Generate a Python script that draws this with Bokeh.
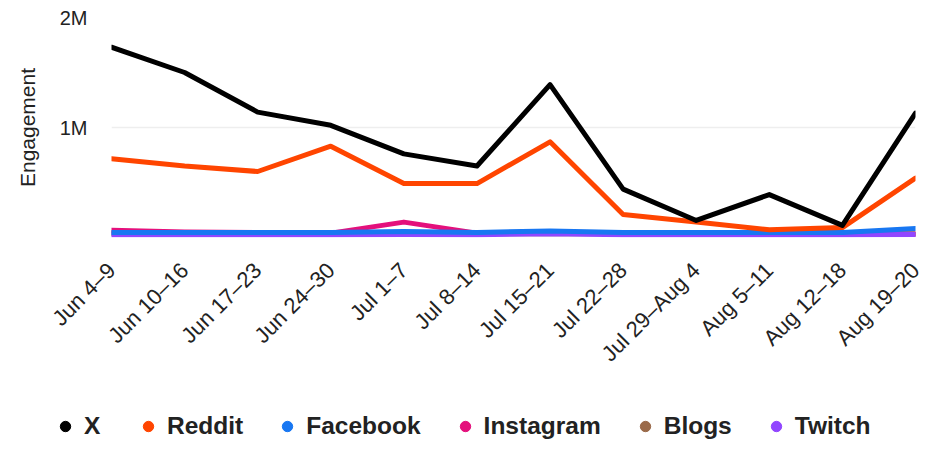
import math
from bokeh.plotting import figure
from bokeh.layouts import column
from bokeh.models import FixedTicker, Legend, LegendItem, Range1d
from bokeh.embed import file_html
from bokeh.resources import INLINE

weeks = ["Jun 4–9", "Jun 10–16", "Jun 17–23", "Jun 24–30", "Jul 1–7", "Jul 8–14",
         "Jul 15–21", "Jul 22–28", "Jul 29–Aug 4", "Aug 5–11", "Aug 12–18", "Aug 19–20"]

x_vals = [1730000, 1500000, 1140000, 1020000, 760000, 650000, 1390000, 440000, 155000, 390000, 110000, 1130000]
reddit = [715000, 650000, 600000, 830000, 490000, 490000, 870000, 210000, 140000, 70000, 90000, 540000]
facebook = [45000, 45000, 45000, 45000, 55000, 45000, 60000, 45000, 45000, 45000, 45000, 82000]
instagram = [65000, 50000, 45000, 40000, 140000, 40000, 40000, 40000, 40000, 40000, 38000, 30000]
blogs = [35000, 35000, 35000, 35000, 35000, 35000, 35000, 35000, 35000, 35000, 35000, 35000]
twitch = [25000, 25000, 25000, 25000, 28000, 25000, 35000, 25000, 25000, 25000, 25000, 28000]

y_ticks = [1000000, 2000000]
y_tick_labels = ["1M", "2M"]

series = {
    "X": (x_vals, "#000000"),
    "Reddit": (reddit, "#FF4500"),
    "Facebook": (facebook, "#1877F2"),
    "Instagram": (instagram, "#E4107C"),
    "Blogs": (blogs, "#9A6A4A"),
    "Twitch": (twitch, "#9146FF"),
}
legend_order = ["X", "Reddit", "Facebook", "Instagram", "Blogs", "Twitch"]
draw_order = ["Blogs", "Instagram", "Twitch", "Facebook", "Reddit", "X"]

idx = list(range(len(weeks)))

p = figure(width=932, height=400, output_backend="svg", toolbar_location=None,
           x_range=Range1d(0, len(weeks) - 1), y_range=Range1d(0, 2000000),
           min_border_left=111, min_border_right=17, min_border_top=17, min_border_bottom=163)
p.outline_line_color = None
p.background_fill_color = "white"

for name in draw_order:
    vals, col = series[name]
    p.line(idx, vals, line_color=col, line_width=5, line_join="round", line_cap="round")

p.xaxis.ticker = FixedTicker(ticks=idx)
p.xaxis.major_label_overrides = {i: w for i, w in enumerate(weeks)}
p.xaxis.major_label_orientation = math.pi / 4
p.xaxis.major_label_text_font = "Liberation Sans"
p.xaxis.major_label_text_font_size = "22px"
p.xaxis.major_label_text_color = "#222222"
p.xaxis.major_label_standoff = 23
p.xaxis.axis_line_color = None
p.xaxis.major_tick_line_color = None
p.xaxis.minor_tick_line_color = None

p.yaxis.ticker = FixedTicker(ticks=y_ticks)
p.yaxis.major_label_overrides = {t: l for t, l in zip(y_ticks, y_tick_labels)}
p.yaxis.major_label_text_font = "Liberation Sans"
p.yaxis.major_label_text_font_size = "20px"
p.yaxis.major_label_text_color = "#222222"
p.yaxis.major_label_standoff = 18
p.yaxis.axis_line_color = None
p.yaxis.major_tick_line_color = None
p.yaxis.minor_tick_line_color = None
p.yaxis.axis_label = "Engagement"
p.yaxis.axis_label_text_font = "Liberation Sans"
p.yaxis.axis_label_text_font_style = "normal"
p.yaxis.axis_label_text_font_size = "21px"
p.yaxis.axis_label_text_color = "#222222"
p.yaxis.axis_label_standoff = 18

p.xgrid.grid_line_color = None
p.ygrid.grid_line_color = "#EEEEEE"
p.ygrid.grid_line_width = 1.5

# legend figure
lf = figure(width=932, height=52, output_backend="svg", toolbar_location=None,
            x_range=Range1d(0, 1), y_range=Range1d(0, 1),
            x_axis_location=None, y_axis_location=None,
            min_border_left=0, min_border_right=0, min_border_top=0, min_border_bottom=0)
lf.frame_align = False
lf.outline_line_color = None
lf.xgrid.grid_line_color = None
lf.ygrid.grid_line_color = None

items = []
for name in legend_order:
    vals, col = series[name]
    r = lf.scatter([float("nan")], [float("nan")], marker="circle", fill_color=col, line_color=col)
    items.append(LegendItem(label=name, renderers=[r]))

legend = Legend(items=items, orientation="horizontal", location=(52, 12),
                glyph_width=26, glyph_height=26, label_standoff=6, spacing=31,
                padding=0, margin=0, border_line_color=None, background_fill_alpha=0,
                label_text_font="Liberation Sans", label_text_font_style="bold",
                label_text_font_size="24.5px", label_text_color="#222222")
lf.add_layout(legend, "center")

layout = column(p, lf, spacing=0)
open("out.html", "w").write(file_html(layout, INLINE))
